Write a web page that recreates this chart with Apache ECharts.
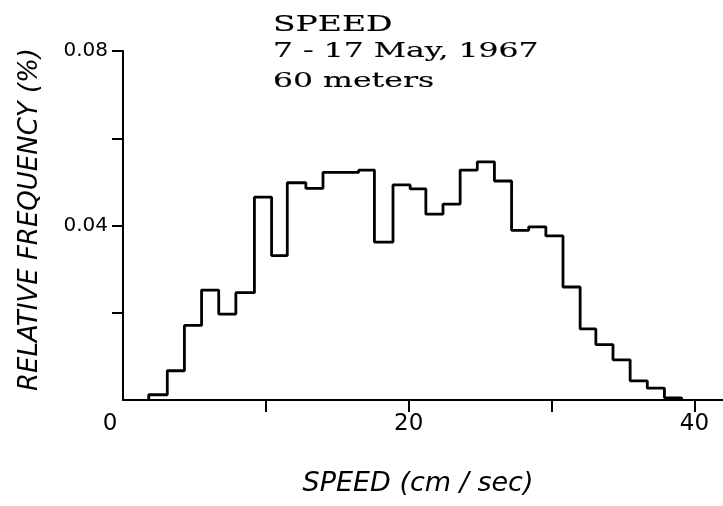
<!DOCTYPE html>
<html>
<head>
<meta charset="utf-8">
<script src="https://cdn.jsdelivr.net/npm/echarts@6/dist/echarts.min.js"></script>
<style>
  html, body { margin: 0; padding: 0; background: #fff; }
  #chart { width: 723px; height: 506px; }
</style>
</head>
<body>
<div id="chart"></div>
<script>
// Bin edges of the speed histogram (cm/sec)
const binEdges = [1.8, 3.1, 4.3, 5.5, 6.7, 7.9, 9.2, 10.4, 11.5, 12.8, 14.0, 15.2, 16.5, 17.6, 18.9, 20.1,
  21.2, 22.4, 23.6, 24.8, 26.0, 27.2, 28.4, 29.6, 30.8, 32.0, 33.1, 34.3, 35.5, 36.7, 37.9, 39.1];
// Relative frequency of each bin
const relFreq = [0.0012, 0.0067, 0.0171, 0.0252, 0.0197, 0.0246, 0.0465, 0.0331, 0.0498, 0.0485,
  0.0522, 0.0522, 0.0527, 0.0362, 0.0493, 0.0484, 0.0426, 0.0449, 0.0527, 0.0546,
  0.0502, 0.0389, 0.0397, 0.0376, 0.0259, 0.0163, 0.0127, 0.0092, 0.0044, 0.0027, 0.0005];
// Axis ticks and labels
const xTickValues = [10, 20, 30, 40];
const xLabelValues = [0, 20, 40];
const yTickValues = [0.02, 0.04, 0.06, 0.08];
const yLabelValues = [0.04, 0.08];
// Texts
const titleLines = ['SPEED', '7 - 17 May, 1967', '60 meters'];
const xTitle = 'SPEED (cm / sec)';
const yTitle = 'RELATIVE FREQUENCY (%)';

// Build the step outline of the histogram
const outline = [[binEdges[0], 0]];
for (let i = 0; i < relFreq.length; i++) {
  outline.push([binEdges[i], relFreq[i]]);
  outline.push([binEdges[i + 1], relFreq[i]]);
}
outline.push([binEdges[binEdges.length - 1], 0]);

const chart = echarts.init(document.getElementById('chart'), null, { renderer: 'canvas' });

const titleY = [25, 52, 82];
const titleSize = [22, 21, 21];

chart.setOption({
  animation: false,
  backgroundColor: '#fff',
  grid: { left: 123, top: 51, width: 600.6, height: 349 },
  xAxis: {
    type: 'value',
    min: 0, max: 42, interval: 10,
    name: xTitle,
    nameLocation: 'middle',
    nameGap: 70,
    nameTextStyle: { fontFamily: 'DejaVu Sans', fontStyle: 'italic', fontSize: 27, color: '#000', padding: [0, 10, 0, 0] },
    axisLine: { show: true, lineStyle: { color: '#000', width: 2 } },
    axisTick: { show: true, inside: false, length: 12, customValues: xTickValues, lineStyle: { color: '#000', width: 2 } },
    axisLabel: {
      customValues: xLabelValues,
      margin: 13,
      fontFamily: 'DejaVu Sans', fontSize: 23, color: '#000',
      formatter: v => (v === 0 ? '{z|0}' : String(v)),
      rich: { z: { fontFamily: 'DejaVu Sans', fontSize: 23, color: '#000', padding: [0, 26, 0, 0] } }
    },
    splitLine: { show: false }
  },
  yAxis: {
    type: 'value',
    min: 0, max: 0.08, interval: 0.02,
    name: yTitle,
    nameLocation: 'middle',
    nameGap: 80,
    nameTextStyle: { fontFamily: 'DejaVu Sans', fontStyle: 'italic', fontSize: 26, color: '#000', padding: [0, 0, 0, 12] },
    axisLine: { show: true, lineStyle: { color: '#000', width: 2 } },
    axisTick: { show: true, inside: false, length: 11, customValues: yTickValues, lineStyle: { color: '#000', width: 2 } },
    axisLabel: {
      customValues: yLabelValues,
      margin: 15,
      fontFamily: 'DejaVu Sans', fontSize: 20, color: '#000',
      formatter: v => v.toFixed(2)
    },
    splitLine: { show: false }
  },
  graphic: titleLines.map((t, i) => ({
    type: 'text',
    x: 273,
    y: titleY[i],
    scaleX: 1.5,
    style: {
      text: t,
      x: 0, y: 0,
      fill: '#000',
      stroke: '#000',
      lineWidth: 0.15,
      font: titleSize[i] + 'px "DejaVu Serif"',
      textAlign: 'left',
      textVerticalAlign: 'middle'
    }
  })),
  series: [{
    type: 'line',
    data: outline,
    symbol: 'none',
    lineStyle: { color: '#000', width: 2.8 },
    itemStyle: { color: '#000' },
    silent: true
  }]
});
</script>
</body>
</html>
